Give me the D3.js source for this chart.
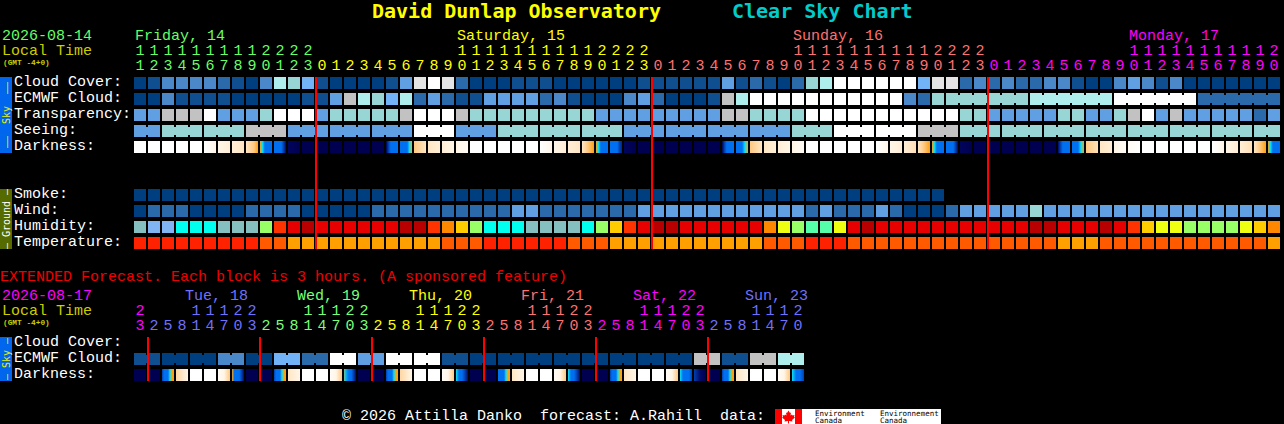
<!DOCTYPE html>
<html>
<head>
<meta charset="utf-8">
<title>David Dunlap Observatory Clear Sky Chart</title>
<script src="https://cdn.jsdelivr.net/npm/d3@7"></script>
<style>
  html, body { margin: 0; padding: 0; background: #000; overflow: hidden; }
  svg { display: block; }
  text { font-family: "Liberation Mono", monospace; white-space: pre; }
  text.blocky { font-family: "DejaVu Sans Mono", monospace; }
</style>
</head>
<body>
<svg id="chart" width="1284" height="424"></svg>
<script>
// hours along the top, one column per hour
const hours = [11,12,13,14,15,16,17,18,19,20,21,22,23,
  0,1,2,3,4,5,6,7,8,9,10,11,12,13,14,15,16,17,18,19,20,21,22,23,
  0,1,2,3,4,5,6,7,8,9,10,11,12,13,14,15,16,17,18,19,20,21,22,23,
  0,1,2,3,4,5,6,7,8,9,10,11,12,13,14,15,16,17,18,19,20];
const dayNames = ["Friday, 14", "Saturday, 15", "Sunday, 16", "Monday, 17"];
const dayStarts = [0, 13, 37, 61];
const midnights = [13, 37, 61];

// sky levels: 0 = clear/dark blue ... 10 = overcast/white
const cloudCover = [0,1,3,3,3,3,2,1,0,3,7,6,5,1,0,0,0,0,1,4,9,10,9,2,0,0,0,1,1,1,0,0,0,0,0,0,1,1,1,1,1,1,4,1,2,1,0,2,6,7,10,10,
  10,10,10,10,5,9,9,2,3,2,3,2,2,3,3,1,0,0,3,4,3,1,3,0,0,0,0,0,0,0];
const ecmwfCloud = [0,0,3,1,1,1,1,0,0,0,0,0,1,1,4,8,7,6,5,7,2,4,2,1,1,4,4,4,4,2,3,1,0,0,0,3,4,2,0,0,0,1,8,7,10,10,10,10,10,10,10,10,
  10,10,10,3,2,6,6,6,6,6,6,6,7,7,7,7,7,7,10,10,10,10,10,10,2,2,2,2,2,2];
const ecmwfBlocks = [...Array(58).fill(1), 6, 6, 6, 6];
const transparency = [4,4,8,8,8,10,4,4,4,6,10,10,10,4,6,6,6,6,6,8,10,10,10,8,6,6,6,6,6,6,6,6,6,4,4,4,4,4,4,4,4,4,8,8,6,6,6,6,10,10,10,10,
  10,10,10,10,10,10,10,6,6,4,4,4,4,4,6,6,4,4,6,8,10,4,8,4,4,4,4,4,2,4];
const seeing = [4,4,6,6,6,6,6,6,8,8,8,4,4,4,4,4,4,4,4,4,10,10,10,4,4,4,6,6,6,6,6,6,6,6,6,4,4,4,4,4,4,4,4,4,4,4,4,6,6,6,10,10,
  10,10,10,10,8,8,8,6,6,6,6,6,6,6,6,6,6,6,6,6,6,6,6,6,6,6,6,6,6,6];
const seeingBlocks = [2, ...Array(26).fill(3), 2];

// darkness: samples across one block, 0 = daylight ... 9 = full dark
const darkness = [[0],[0],[0],[0],[0],[0,1],[1,1.5],[1.5,2],[2,2.5,3,4],[4,5,6,6,6,6],[6,6,6,6,7,8],[8.5,9],
  [9],[9],[9],[9],[9],[9],[9,7,6,6,6,6],[6,6,6,6,5,4],[3,2.5,2],[2,1.5],[1.5,1],[1,.5],
  [0],[0],[0],[0],[0],[0,1],[1,1.5],[1.5,2],[2,3,4],[4,5,6,6,6,6],[6,6,6,6,7,7.5],[8.5,9],
  [9],[9],[9],[9],[9],[9],[9,7,6,6,6,6],[6,6,6,5,4],[3,2],[2,1.5],[1.5,1],[1,.5],
  [0],[0],[0],[0],[0],[0,1],[1,1.5],[1.5,2.2],[2,3,4],[4,5,6,6,6,6],[6,6,6,6,7,8],[8.5,9],
  [9],[9],[9],[9],[9],[9],[8,7,6,6,6,6],[6,6,6,5,4],[3,2.2],[2,1.5],[1,.5],[.5,0],
  [0],[0],[0],[0],[0],[0,1],[1,1.5],[1.5,2.2],[2,3,4],[4,5,6,6,6,6]];

const smoke = Array(58).fill(0);
const wind = [0,2,2,2,0,0,0,0,2,2,2,2,0,0,0,0,0,2,2,2,2,2,2,2,2,2,2,4,4,2,2,2,2,2,2,2,4,4,4,4,4,4,4,4,4,4,4,4,2,4,2,2,
  2,4,2,0,0,0,2,4,4,4,4,4,6,4,4,4,4,4,4,4,4,4,4,4,4,4,4,4,4,4];
// humidity in percent
const humidity = [45,40,40,50,50,50,45,45,45,60,80,85,95,85,85,85,85,85,85,95,95,80,75,70,60,50,50,50,45,45,45,45,50,60,70,80,85,95,95,85,85,85,85,85,85,75,65,60,55,55,65,85,
  95,85,85,85,85,85,85,85,85,85,85,85,95,95,85,85,85,95,85,80,70,65,65,60,60,60,60,65,70,75];
// temperature in deg C
const temperature = [27,27,27,27,27,27,27,27,27,24,24,21,21,21,21,21,21,21,21,21,21,21,24,24,24,27,27,27,27,27,27,24,24,24,21,21,21,21,21,21,21,21,21,21,21,24,24,24,27,27,27,24,
  24,24,24,24,24,24,24,24,24,24,24,24,24,24,21,21,21,24,24,24,24,24,24,24,24,24,24,24,24,21];

// extended forecast, one block = 3 hours
const extHours = [23,2,5,8,11,14,17,20,23,2,5,8,11,14,17,20,23,2,5,8,11,14,17,20,23,2,5,8,11,14,17,20,23,2,5,8,11,14,17,20,23,2,5,8,11,14,17,20];
const extDayNames = ["", "Tue, 18", "Wed, 19", "Thu, 20", "Fri, 21", "Sat, 22", "Sun, 23"];
const extDayStarts = [0, 1, 9, 17, 25, 33, 41];
const extMidnights = [1, 9, 17, 25, 33, 41];
const extEcmwf = [1,1,0,0,0,0,3,3,0,0,5,5,2,2,10,10,4,4,10,10,10,10,1,1,0,0,0,0,0,0,0,0,0,0,0,0,0,0,0,0,8,8,1,1,8,8,7,7];
const extEcmwfBlocks = Array(24).fill(2);
const extDarkness = [[9],[9],[7,6,6,6,5,4,4],[2.5,1],[0],[0],[.5,1,3],[4,6,6,6,7,8],
  [9],[9],[7,6,6,6,5,4,4],[2,1],[0],[0],[.5,1,3],[4.6,5.5,6,6,7,8],
  [9],[9],[7,6,6,6,5,4,4],[2.5,1],[0],[0],[.5,1,3],[5,6,6,7,8],
  [9],[9],[6,6,6,6,5,4,4],[2,1],[0],[0],[.5,1,3],[5,6,6,7,8],
  [9],[9],[7,6,6,6,5,4,4],[2,1],[0],[0],[.5,1,3],[5,6,6,6,7],
  [7,8,9],[9],[7,6,6,6,5,4,4],[2,1],[0],[0],[.5,1,3],[5,6,6,7]];

// colours
const skyColor = d3.scaleOrdinal(d3.range(11),
  ["#003f7f","#0f4f8f","#2a6aab","#4a88c9","#619fe3","#72b2f7","#98d6d5","#aeeeed","#c2c2c2","#e4e4e4","#ffffff"]);
const darkColor = d3.scaleLinear()
  .domain([0,1,2,3,4,5,6,7,8,9])
  .range(["#ffffff","#fff6e8","#ffe6c4","#ffc880","#ffa010","#10e0f0","#0070f0","#0040b0","#000a68","#000050"]);
const humColor = d3.scaleOrdinal([40,45,50,55,60,65,70,75,80,85,95],
  ["#80b4f2","#86bfc0","#00ffee","#55ffaa","#99ff66","#eeff11","#ffcc00","#ff8800","#ff3300","#e60000","#b80000"]);
const tempColor = d3.scaleOrdinal([21,24,27], ["#ffa000","#ff5a00","#ff2200"]);
const dayColors = ["#66ff66","#ffff00","#ff7070","#ff00ff"];
const extDayColors = ["#ff00ff","#7070ff","#77ff77","#ffff00","#ff7070","#ff00ff","#7070ff"];
const LABEL = "#ffffff", YELLOWISH = "#cccc00", LINE = "#ff0000";

const svg = d3.select("#chart");

// cell size 12, pitch 14
function colScale(n) {
  return d3.scaleBand().domain(d3.range(n)).range([134, 134 + 14 * n - 2]).paddingInner(2 / 14).paddingOuter(0);
}
const x = colScale(hours.length);
const xExt = colScale(extHours.length);
const rowY = d3.scalePoint()
  .domain(["Cloud Cover:","ECMWF Cloud:","Transparency:","Seeing:","Darkness:","gap1","gap2","Smoke:","Wind:","Humidity:","Temperature:"])
  .range([77, 237]);
const extRowY = d3.scalePoint().domain(["Cloud Cover:","ECMWF Cloud:","Darkness:"]).range([337, 369]);
const cellH = 12;

function drawRow(g, scale, y, values, color) {
  g.append("g").selectAll("rect").data(values).join("rect")
    .attr("x", (d, i) => scale(i))
    .attr("y", y)
    .attr("width", scale.bandwidth())
    .attr("height", cellH)
    .attr("fill", d => color(d));
}

// little bridges between the hours of one forecast block
function drawLinks(g, scale, y, values, color, blocks) {
  let links = [], col = 0;
  blocks.forEach(len => {
    for (let k = 0; k < len - 1; k++) links.push(col + k);
    col += len;
  });
  g.append("g").selectAll("rect").data(links).join("rect")
    .attr("x", i => scale(i) + scale.bandwidth())
    .attr("y", y + 2)
    .attr("width", scale.step() - scale.bandwidth())
    .attr("height", cellH - 4)
    .attr("fill", i => color(values[i]));
}

let gradId = 0;
function drawDarkness(g, scale, y, values) {
  const defs = svg.select("defs").empty() ? svg.append("defs") : svg.select("defs");
  values.forEach((samples, i) => {
    let fill = darkColor(samples[0]);
    if (samples.length > 1) {
      const id = "dark" + gradId++;
      const grad = defs.append("linearGradient").attr("id", id);
      samples.forEach((s, k) => {
        grad.append("stop").attr("offset", k / (samples.length - 1)).attr("stop-color", darkColor(s));
      });
      fill = "url(#" + id + ")";
    }
    g.append("rect")
      .attr("x", scale(i)).attr("y", y)
      .attr("width", scale.bandwidth()).attr("height", cellH)
      .attr("fill", fill);
  });
}

function drawLabels(scale, names) {
  svg.append("g").selectAll("text").data(names).join("text")
    .attr("x", 14)
    .attr("y", d => scale(d) + 9)
    .attr("font-size", 15)
    .attr("fill", LABEL)
    .text(d => d);
}

function label(str, px, py, size, color, weight) {
  return svg.append("text")
    .attr("x", px).attr("y", py)
    .attr("font-size", size)
    .attr("font-weight", weight || "normal")
    .attr("fill", color)
    .text(str);
}

function sideBar(y0, y1, color, name, textColor) {
  svg.append("rect").attr("x", 0).attr("y", y0).attr("width", 12).attr("height", y1 - y0).attr("fill", color);
  svg.append("text")
    .attr("class", "blocky")
    .attr("transform", "translate(10," + (y0 + y1) / 2 + ") rotate(-90)")
    .attr("text-anchor", "middle")
    .attr("font-size", 10)
    .attr("fill", textColor)
    .text(name);
}

// hour header: day names, tens digit, units digit
function header(scale, hrs, names, starts, colors, dayY, labelOffset) {
  const colColor = i => colors[d3.bisectRight(starts, i) - 1];
  names.forEach((name, k) => {
    if (!name) return;
    const c = d3.range(starts[k], hrs.length).find(i => hrs[i] >= 10);
    label(name, scale(c) + labelOffset, dayY, 15, colors[k]);
  });
  const g = svg.append("g").attr("text-anchor", "middle").attr("font-size", 15);
  g.selectAll("text.tens").data(hrs).join("text")
    .attr("class", "tens")
    .attr("x", (d, i) => scale(i) + scale.bandwidth() / 2)
    .attr("y", dayY + 15)
    .attr("fill", (d, i) => colColor(i))
    .text(d => d >= 10 ? Math.floor(d / 10) : "");
  g.selectAll("text.units").data(hrs).join("text")
    .attr("class", "units")
    .attr("x", (d, i) => scale(i) + scale.bandwidth() / 2)
    .attr("y", dayY + 30)
    .attr("fill", (d, i) => colColor(i))
    .text(d => d % 10);
}

// title
label("David Dunlap Observatory", 372, 18, 20, "#ffff00", "bold").attr("class", "blocky");
label("Clear Sky Chart", 732, 18, 20, "#00cccc", "bold").attr("class", "blocky");

// top block
label("2026-08-14", 2, 40, 15, "#66ff66");
label("Local Time", 2, 55, 15, YELLOWISH);
label("(GMT -4+0)", 3, 64.5, 7.8, YELLOWISH, "bold");
header(x, hours, dayNames, dayStarts, dayColors, 40, 1);

const mainRows = svg.append("g");
drawRow(mainRows, x, rowY("Cloud Cover:"), cloudCover, skyColor);
drawRow(mainRows, x, rowY("ECMWF Cloud:"), ecmwfCloud, skyColor);
drawLinks(mainRows, x, rowY("ECMWF Cloud:"), ecmwfCloud, skyColor, ecmwfBlocks);
drawRow(mainRows, x, rowY("Transparency:"), transparency, skyColor);
drawRow(mainRows, x, rowY("Seeing:"), seeing, skyColor);
drawLinks(mainRows, x, rowY("Seeing:"), seeing, skyColor, seeingBlocks);
drawDarkness(mainRows, x, rowY("Darkness:"), darkness);
drawRow(mainRows, x, rowY("Smoke:"), smoke, skyColor);
drawRow(mainRows, x, rowY("Wind:"), wind, skyColor);
drawRow(mainRows, x, rowY("Humidity:"), humidity, humColor);
drawRow(mainRows, x, rowY("Temperature:"), temperature, tempColor);
drawLabels(rowY, rowY.domain().filter(d => !d.startsWith("gap")));

svg.append("g").selectAll("rect").data(midnights).join("rect")
  .attr("x", d => x(d) - 1).attr("y", 77)
  .attr("width", 2).attr("height", 172)
  .attr("fill", LINE);

sideBar(77, 153, "#0066ee", "\u2013\u2013  Sky  \u2013\u2013", "#eeee00");
sideBar(189, 249, "#556b00", "\u2013 Ground \u2013", "#ffffff");

// extended forecast
label("EXTENDED Forecast. Each block is 3 hours. (A sponsored feature)", 0, 281, 15, "#ee0000");
label("2026-08-17", 2, 300, 15, "#ff00ff");
label("Local Time", 2, 315, 15, YELLOWISH);
label("(GMT -4+0)", 3, 324.5, 7.8, YELLOWISH, "bold");
header(xExt, extHours, extDayNames, extDayStarts, extDayColors, 300, -5);

const extRows = svg.append("g");
drawRow(extRows, xExt, extRowY("ECMWF Cloud:"), extEcmwf, skyColor);
drawLinks(extRows, xExt, extRowY("ECMWF Cloud:"), extEcmwf, skyColor, extEcmwfBlocks);
drawDarkness(extRows, xExt, extRowY("Darkness:"), extDarkness);
drawLabels(extRowY, extRowY.domain());

svg.append("g").selectAll("rect").data(extMidnights).join("rect")
  .attr("x", d => xExt(d) - 1).attr("y", 337)
  .attr("width", 2).attr("height", 44)
  .attr("fill", LINE);

sideBar(337, 381, "#0066ee", "\u2013 Sky \u2013", "#eeee00");

// footer with the Environment Canada logo
label("\u00a9 2026 Attilla Danko  forecast: A.Rahill  data:", 342, 420, 15, "#ffffff");
const logo = svg.append("g").attr("transform", "translate(775,409)");
logo.append("rect").attr("width", 166).attr("height", 15).attr("fill", "#fff");
logo.append("rect").attr("width", 7).attr("height", 15).attr("fill", "#f00");
logo.append("rect").attr("x", 20).attr("width", 7).attr("height", 15).attr("fill", "#f00");
logo.append("path")
  .attr("d", "M13.5 1.5l1.5 2.5 1-.5-.5 3 1.5-1 .5 1 2-.5-.5 2 1 .5-3 2.5.5 1.5-3.5-.5v2.5h-1v-2.5l-3.5.5.5-1.5-3-2.5 1-.5-.5-2 2 .5.5-1 1.5 1-.5-3 1 .5z")
  .attr("fill", "#f00");
[["Environment", 40], ["Environnement", 105]].forEach(d => {
  logo.append("text").attr("class", "blocky").attr("x", d[1]).attr("y", 6.5).attr("font-size", 7.5).attr("fill", "#000").text(d[0]);
  logo.append("text").attr("class", "blocky").attr("x", d[1]).attr("y", 13.5).attr("font-size", 7.5).attr("fill", "#000").text("Canada");
});
</script>
</body>
</html>
